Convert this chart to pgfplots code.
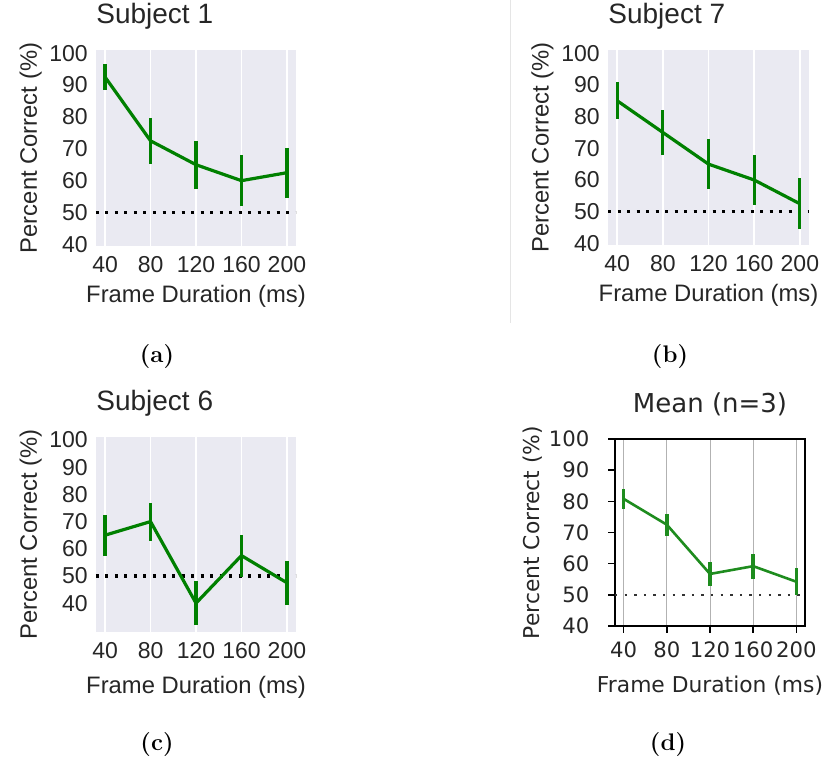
\documentclass[border=0pt]{standalone}
\usepackage{fontspec}
\usepackage{pgfplots}
\usepackage{pgfplotstable}
\pgfplotsset{compat=1.18}
\newfontfamily\arial{Liberation Sans}
\newfontfamily\dejavu{DejaVu Sans}
\definecolor{sbbg}{HTML}{EAEAF2}
\definecolor{sbtext}{HTML}{262626}
\definecolor{sbgreen}{HTML}{008000}
\definecolor{mgreen}{HTML}{1E8C1E}

\pgfplotstableread{
x y e
40 92.5 4.2
80 72.5 7.3
120 65 7.5
160 60 8
200 62.5 7.8
}\dataA
\pgfplotstableread{
x y e
40 85 5.8
80 75 7
120 65 7.8
160 60 8
200 52.5 8
}\dataB
\pgfplotstableread{
x y e
40 65 7.5
80 70 7
120 40 8
160 57.5 7.7
200 47.5 8
}\dataC
\pgfplotstableread{
x y e
40 80.8 3.2
80 72.5 3.5
120 56.7 3.8
160 59.2 4
200 54.2 4.4
}\dataD

\pgfplotsset{
  sb/.style={
    scale only axis, anchor=south west,
    xmin=32, xmax=208, ymin=39.5, ymax=101,
    xtick={40,80,120,160,200}, ytick={40,50,...,100},
    axis background/.style={fill=sbbg},
    axis line style={draw=none},
    major tick length=0pt,
    xmajorgrids, grid style={white, line width=0.7pt},
    /pgf/number format/assume math mode=true,
    tick label style={font=\arial\fontsize{11.5}{13}\selectfont, text=sbtext},
    xticklabel style={yshift=-1.8pt},
    yticklabel style={xshift=-0.6pt},
    label style={font=\arial\fontsize{11.9}{14}\selectfont, text=sbtext},
    ylabel={Percent Correct (\%)}, xlabel={Frame Duration (ms)},
    ylabel style={at={(axis description cs:-0.295,0.5)}, anchor=base},
    title style={at={(axis description cs:0,1)}, anchor=base west, yshift=7pt, inner sep=0pt, font=\arial\fontsize{14}{16}\selectfont, text=sbtext},
  },
  sbline/.style={sbgreen, line width=1.6pt, mark=none,
    error bars/.cd, y dir=both, y explicit, error mark=none,
    error bar style={line width=1.6pt, sbgreen}},
  chance/.style={black, line width=1.6pt, dash pattern=on 1.5pt off 3.25pt},
}

\begin{document}
\begin{tikzpicture}
\path[use as bounding box] (0,0) rectangle (414.5pt,380pt);
\draw[gray!20, line width=0.5pt] (255.35pt,380pt) -- (255.35pt,218.5pt);

% (a)
\begin{axis}[sb, at={(48pt,257pt)}, width=100pt, height=98pt,
  title={Subject 1},
  xlabel style={at={(axis description cs:0.5,0)}, anchor=base, yshift=-28.5pt}]
\addplot[chance] coordinates {(32,50) (208,50)};
\addplot[sbline] table[x=x, y=y, y error=e] {\dataA};
\end{axis}

% (b)
\begin{axis}[sb, at={(304pt,257.5pt)}, width=100.5pt, height=97.5pt,
  title={Subject 7},
  xlabel style={at={(axis description cs:0.5,0)}, anchor=base, yshift=-28.3pt}]
\addplot[chance] coordinates {(32,50) (208,50)};
\addplot[sbline] table[x=x, y=y, y error=e] {\dataB};
\end{axis}

% (c)
\begin{axis}[sb, at={(48pt,64pt)}, width=100pt, height=97.5pt,
  ymin=29.4, ymax=101.1,
  title={Subject 6},
  xlabel style={at={(axis description cs:0.5,0)}, anchor=base, yshift=-30.5pt}]
\addplot[chance] coordinates {(32,50) (208,50)};
\addplot[sbline] table[x=x, y=y, y error=e] {\dataC};
\end{axis}

% (d)
\begin{axis}[scale only axis, anchor=south west, at={(307.5pt,67pt)}, width=95pt, height=93.5pt,
  xmin=32, xmax=208, ymin=40, ymax=100,
  xtick={40,80,120,160,200}, ytick={40,50,...,100},
  axis line style={black, line width=0.9pt},
  tick align=outside, tick pos=left, major tick length=3.3pt,
  tick style={black, line width=0.8pt},
  xmajorgrids, grid style={gray!60, line width=0.5pt},
  /pgf/number format/assume math mode=true,
  tick label style={font=\dejavu\fontsize{10.6}{12}\selectfont, text=black!85},
  yticklabel style={xshift=-6pt},
  xticklabel style={yshift=-1pt, inner xsep=0pt},
  label style={font=\dejavu\fontsize{10.9}{13}\selectfont, text=black!85},
  ylabel={Percent Correct (\%)}, xlabel={Frame Duration (ms)},
  ylabel style={at={(axis description cs:-0.395,0.5)}, anchor=base},
  xlabel style={at={(axis description cs:0.5,0)}, anchor=base, yshift=-33pt},
  title={Mean (n=3)},
  title style={at={(axis description cs:0.5,1)}, anchor=base, yshift=7pt, inner sep=0pt, font=\dejavu\fontsize{13}{15}\selectfont, text=black!85}]
\addplot[black!80, line width=1.2pt, dash pattern=on 1.2pt off 3.6pt] coordinates {(32,50) (208,50)};
\addplot[mgreen, line width=1.3pt, mark=none,
    error bars/.cd, y dir=both, y explicit, error mark=none,
    error bar style={line width=1.8pt, mgreen}] table[x=x, y=y, y error=e] {\dataD};
\end{axis}

\node[font=\bfseries\fontsize{12}{14}\selectfont] at (78.5pt,201.5pt) {(a)};
\node[font=\bfseries\fontsize{12}{14}\selectfont] at (335pt,201.5pt) {(b)};
\node[font=\bfseries\fontsize{12}{14}\selectfont] at (78.5pt,7.5pt) {(c)};
\node[font=\bfseries\fontsize{12}{14}\selectfont] at (334pt,7.5pt) {(d)};
\end{tikzpicture}
\end{document}
